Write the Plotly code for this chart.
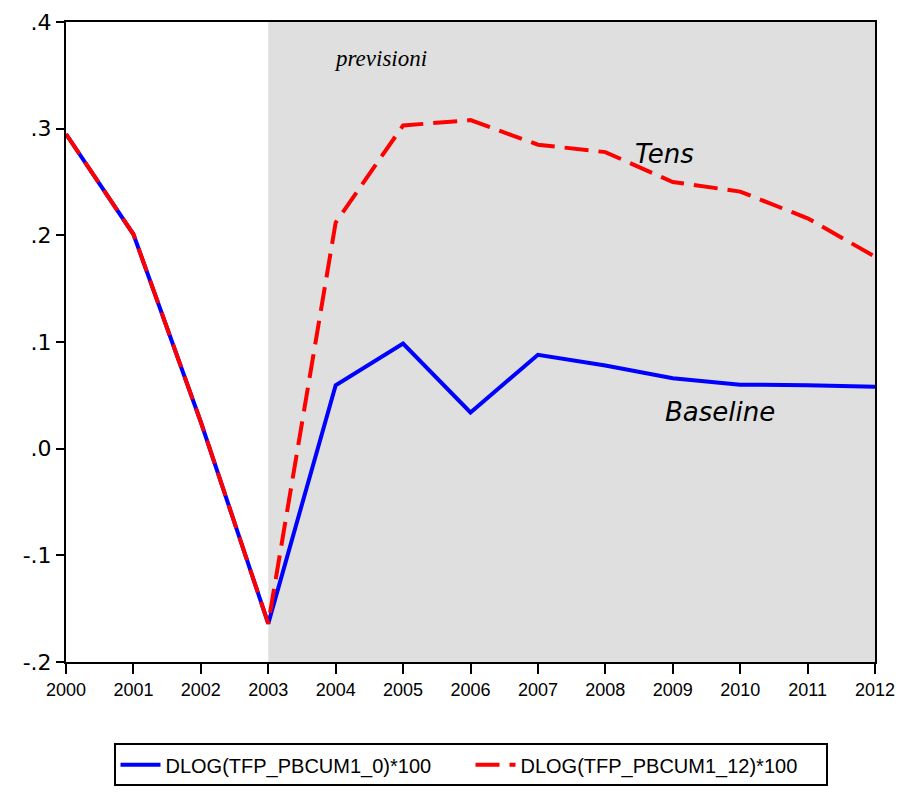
import plotly.graph_objects as go

years = list(range(2000, 2013))
baseline = [0.295, 0.201, 0.025, -0.164, 0.0595, 0.0986, 0.034, 0.088, 0.078, 0.066, 0.060, 0.0595, 0.058]
tens = [0.295, 0.201, 0.025, -0.164, 0.212, 0.303, 0.308, 0.285, 0.278, 0.250, 0.241, 0.216, 0.180]
ytick_vals = [-0.2, -0.1, 0.0, 0.1, 0.2, 0.3, 0.4]
ytick_text = ["-.2", "-.1", ".0", ".1", ".2", ".3", ".4"]
names = ["DLOG(TFP_PBCUM1_0)*100", "DLOG(TFP_PBCUM1_12)*100"]

sans = "Liberation Sans, Arial"

fig = go.Figure()
fig.add_trace(go.Scatter(x=years, y=baseline, mode="lines", name=names[0],
                         line=dict(color="#0000ff", width=4)))
fig.add_trace(go.Scatter(x=years, y=tens, mode="lines", name=names[1],
                         line=dict(color="#ff0000", width=4, dash="24px,10px")))

fig.add_shape(type="rect", xref="x", yref="paper", x0=2003, x1=2012, y0=0, y1=1,
              fillcolor="#dfdfdf", line=dict(width=0), layer="below")

fig.add_annotation(x=2004.66, y=0.366, text="<i>previsioni</i>", showarrow=False,
                   font=dict(family="Liberation Serif, Times New Roman, serif", size=23, color="black"))
fig.add_annotation(x=2008.88, y=0.276, text="<i>Tens</i>", showarrow=False,
                   font=dict(family="DejaVu Sans, Verdana", size=26, color="black"))
fig.add_annotation(x=2009.70, y=0.034, text="<i>Baseline</i>", showarrow=False,
                   font=dict(family="DejaVu Sans, Verdana", size=26, color="black"))

fig.update_layout(
    width=895, height=784,
    margin=dict(l=58, r=28, t=14, b=130, autoexpand=False),
    paper_bgcolor="white", plot_bgcolor="white",
    showlegend=True,
    legend=dict(orientation="h", x=0.5, xanchor="center", y=-0.127, yanchor="top",
                bordercolor="black", borderwidth=2, bgcolor="white",
                font=dict(family=sans, size=20, color="black"),
                entrywidth=300, entrywidthmode="pixels", itemwidth=40),
    xaxis=dict(range=[2000, 2012], tickvals=years, ticktext=[str(y) for y in years],
               showgrid=False, zeroline=False, showline=True, linecolor="black", linewidth=2,
               mirror=True, ticks="outside", ticklen=10, tickwidth=2, tickcolor="black",
               automargin=False, ticklabeloverflow="allow",
               tickfont=dict(family=sans, size=18, color="black")),
    yaxis=dict(range=[-0.2, 0.4], tickvals=ytick_vals, ticktext=ytick_text,
               showgrid=False, zeroline=False, showline=True, linecolor="black", linewidth=2,
               mirror=True, ticks="outside", ticklen=8, tickwidth=2, tickcolor="black",
               automargin=False, ticklabeloverflow="allow",
               tickfont=dict(family="DejaVu Sans, Verdana", size=22, color="black")),
)

fig.write_html("out.html")
